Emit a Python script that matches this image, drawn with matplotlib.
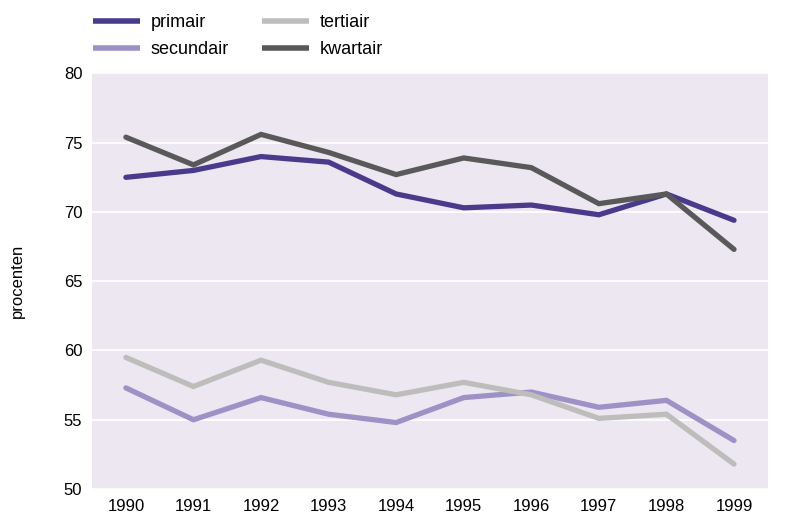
import matplotlib
matplotlib.use("Agg")
import matplotlib.pyplot as plt
from matplotlib.lines import Line2D

plt.rcParams['font.family'] = ['Liberation Sans', 'DejaVu Sans']

years = [1990, 1991, 1992, 1993, 1994, 1995, 1996, 1997, 1998, 1999]
primair = [72.5, 73.0, 74.0, 73.6, 71.3, 70.3, 70.5, 69.8, 71.3, 69.4]
secundair = [57.3, 55.0, 56.6, 55.4, 54.8, 56.6, 57.0, 55.9, 56.4, 53.5]
tertiair = [59.5, 57.4, 59.3, 57.7, 56.8, 57.7, 56.8, 55.1, 55.4, 51.8]
kwartair = [75.4, 73.4, 75.6, 74.3, 72.7, 73.9, 73.2, 70.6, 71.3, 67.3]
yticks = [50, 55, 60, 65, 70, 75, 80]

fig = plt.figure(figsize=(7.94, 5.21), dpi=100)
ax = fig.add_axes([0.116, 0.0614, 0.851, 0.7976])
ax.set_facecolor('#ECE7F1')

series = [
    ('primair', primair, '#4A3A8C'),
    ('secundair', secundair, '#9D91C6'),
    ('tertiair', tertiair, '#BDBDBB'),
    ('kwartair', kwartair, '#595959'),
]
handles = []
for name, vals, col in series:
    ax.plot(years, vals, color=col, lw=3.8, solid_capstyle='round',
            solid_joinstyle='miter', zorder=3)
    handles.append(Line2D([], [], color=col, lw=4, solid_capstyle='butt'))

ax.set_xlim(1989.5, 1999.5)
ax.set_ylim(50, 80)
ax.set_yticks(yticks)
ax.set_xticks(years)
ax.tick_params(length=0, labelsize=12, pad=7)
ax.grid(axis='y', color='white', lw=1.2, zorder=1)
ax.set_axisbelow(True)
for s in ax.spines.values():
    s.set_visible(False)
ax.set_ylabel('procenten', fontsize=12, labelpad=28)

labels = [s[0] for s in series]
fig.legend(handles, labels, ncol=2, frameon=False, loc='upper left',
           bbox_to_anchor=(0.0967, 1.004), fontsize=13, handlelength=2.6,
           handletextpad=0.6, columnspacing=1.85, labelspacing=0.55)

fig.savefig('out.png', dpi=100)
